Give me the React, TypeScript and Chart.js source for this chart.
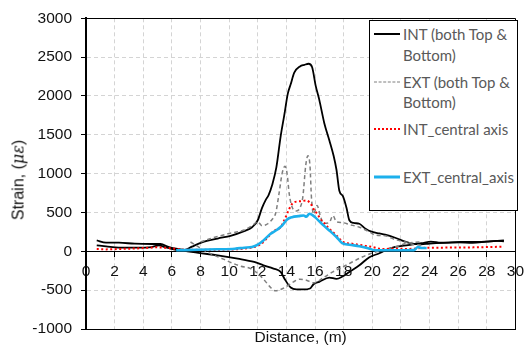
import { useEffect, useRef } from "react";
import { Chart, registerables } from "chart.js";

Chart.register(...registerables);

// ---- axis ranges / labels ----
const X_MIN = 0;
const X_MAX = 30;
const X_STEP = 2;
const Y_MIN = -1000;
const Y_MAX = 3000;
const Y_STEP = 500;
const X_TITLE = "Distance, (m)";
const Y_TITLE_TEXT = "Strain, (";
const Y_TITLE_UNIT = "με";
const Y_TITLE_END = ")";
const SERIES_LABELS = [
  "INT (both Top & Bottom)",
  "EXT (both Top & Bottom)",
  "INT_central axis",
  "EXT_central_axis",
];

// ---- INT top (black, peak) ----
const INT_TOP_X = [0.75, 1.4, 2.3, 3.4, 4.6, 5.2, 5.8, 6.4, 6.9, 7.4, 8.1, 9.2, 10.1, 11.05, 11.6, 12.0, 12.3, 12.55, 12.75, 13.0, 13.3, 13.6, 13.85, 14.1, 14.3, 14.55, 14.95, 15.25, 15.55, 15.8, 16.05, 16.3, 16.65, 17.0, 17.3, 17.5, 17.7, 17.95, 18.2, 18.4, 18.7, 19.1, 19.5, 20.0, 20.5, 20.9, 21.6, 22.3, 22.8, 23.4, 24.0, 25.0, 26.0, 27.0, 28.0, 28.7, 29.2];
const INT_TOP_Y = [141, 111, 111, 98, 94, 94, 55, 30, 17, 60, 115, 165, 200, 260, 310, 400, 560, 660, 720, 850, 1080, 1480, 1750, 2030, 2150, 2300, 2380, 2400, 2415, 2370, 2130, 1950, 1650, 1430, 1230, 1050, 780, 710, 560, 400, 365, 355, 295, 250, 230, 215, 175, 125, 100, 90, 100, 110, 115, 110, 125, 135, 130];

// ---- INT bottom (black, negative) ----
const INT_BOT_X = [0.75, 1.4, 2.3, 3.4, 4.6, 5.1, 5.5, 6.2, 6.9, 7.85, 9.2, 10.6, 11.75, 12.4, 13.1, 13.6, 13.9, 14.3, 14.7, 15.2, 15.65, 15.9, 16.3, 17.0, 17.5, 17.95, 18.4, 19.1, 19.8, 20.5, 20.9, 21.6, 22.5, 23.45, 24.1, 24.8, 26.2, 27.6, 28.5, 29.2];
const INT_BOT_Y = [77, 64, 47, 47, 55, 77, 55, 21, 5, -21, -51, -94, -137, -180, -222, -265, -363, -466, -491, -491, -479, -423, -393, -338, -355, -320, -265, -180, -75, -25, 13, 56, 80, 105, 125, 111, 120, 122, 132, 141];

// ---- EXT top (gray dashed) ----
const EXT_TOP_X = [8.0, 8.8, 9.9, 11.05, 11.6, 12.0, 12.3, 12.7, 13.0, 13.25, 13.5, 13.7, 13.9, 14.05, 14.2, 14.4, 14.7, 14.95, 15.15, 15.35, 15.5, 15.65, 15.75, 15.9, 16.15, 16.35, 16.6, 17.0, 17.25, 17.5, 17.9, 18.4, 19.1, 19.8, 20.2, 20.9, 21.6, 22.3, 22.8, 23.6];
const EXT_TOP_Y = [120, 170, 225, 275, 330, 380, 330, 355, 410, 490, 760, 1000, 1095, 1000, 740, 570, 520, 560, 700, 1100, 1230, 1100, 700, 480, 590, 470, 360, 370, 460, 380, 370, 345, 310, 250, 210, 200, 150, 120, 90, 80];

// ---- EXT bottom (gray dashed) ----
const EXT_BOT_X = [7.3, 7.7, 8.1, 8.5, 9.0, 9.6, 10.2, 10.8, 11.5, 12.1, 12.55, 12.9, 13.25, 13.6, 14.05, 14.5, 14.95, 15.4, 15.9, 16.6, 17.25, 17.95, 18.6, 19.3, 20.0, 20.7, 21.6, 22.5, 23.3];
const EXT_BOT_Y = [120, 75, 30, -10, -55, -100, -150, -190, -222, -300, -390, -466, -509, -491, -449, -393, -359, -372, -406, -338, -265, -201, -137, -73, -21, 13, 56, 107, 120];

// ---- INT central axis (red dotted) ----
const INT_C_X = [0.75, 1.4, 2.3, 3.0, 4.2, 4.9, 6.0, 6.9, 8.3, 9.7, 11.05, 11.75, 12.2, 12.7, 13.1, 13.6, 13.9, 14.15, 14.4, 14.7, 15.05, 15.4, 15.7, 15.95, 16.15, 16.45, 16.7, 17.0, 17.5, 17.95, 18.6, 19.3, 20.0, 20.7, 21.6, 22.5, 23.45, 24.8, 27.1, 29.2];
const INT_C_Y = [30, 25, 30, 34, 43, 51, 38, 21, 21, 22, 34, 56, 90, 180, 260, 310, 420, 526, 610, 640, 645, 654, 611, 530, 483, 397, 350, 290, 205, 120, 98, 77, 56, 30, 34, 30, 43, 47, 51, 60];

// ---- EXT central axis (cyan) ----
const EXT_C_X = [6.3, 7.85, 9.2, 10.4, 11.05, 11.6, 12.0, 12.4, 12.9, 13.35, 13.7, 14.05, 14.4, 14.85, 15.2, 15.4, 15.6, 15.8, 16.0, 16.55, 17.0, 17.5, 17.9, 18.4, 19.1, 19.8, 20.2, 21.0, 22.0, 22.9, 23.2, 23.45, 23.8];
const EXT_C_Y = [13, 21, 26, 34, 47, 56, 85, 141, 226, 278, 330, 410, 440, 453, 462, 445, 483, 470, 440, 340, 269, 184, 105, 85, 66, 34, 13, 13, 13, 15, 56, 43, 43];

const pts = (xs: number[], ys: number[]) => xs.map((x, i) => ({ x, y: ys[i] }));

const TICK_FONT = { family: "'Liberation Sans', Arial, sans-serif", size: 15.5 };

const framePlugin = {
  id: "frame",
  afterDraw(chart: any) {
    const { ctx, chartArea: a } = chart;
    ctx.save();
    ctx.strokeStyle = "#000";
    ctx.lineWidth = 1;
    ctx.beginPath();
    ctx.moveTo(a.left, Math.round(a.top) + 0.5);
    ctx.lineTo(Math.round(a.right) + 0.5, Math.round(a.top) + 0.5);
    ctx.lineTo(Math.round(a.right) + 0.5, a.bottom);
    ctx.stroke();
    ctx.restore();
  },
};

const LEGEND_STYLES = [
  { borderTop: "2px solid #000" },
  { borderTop: "1.5px dashed #7f7f7f" },
  { borderTop: "2px dotted #ff0000" },
  { borderTop: "3px solid #1cb0ec" },
];

export default function App() {
  const ref = useRef<HTMLCanvasElement | null>(null);

  useEffect(() => {
    if (!ref.current) return;
    const common = { pointRadius: 0, fill: false, cubicInterpolationMode: "monotone" as const };
    const chart = new Chart(ref.current, {
      type: "line",
      data: {
        datasets: [
          { ...common, label: SERIES_LABELS[3], data: pts(EXT_C_X, EXT_C_Y), borderColor: "#1cb0ec", borderWidth: 2.6, order: 0 },
          { ...common, label: SERIES_LABELS[2], data: pts(INT_C_X, INT_C_Y), borderColor: "#ff0000", borderWidth: 2, borderDash: [2, 2.5], order: 1 },
          { ...common, label: SERIES_LABELS[1], data: pts(EXT_TOP_X, EXT_TOP_Y), borderColor: "#7f7f7f", borderWidth: 1.5, borderDash: [4, 3], order: 2 },
          { ...common, label: SERIES_LABELS[1] + " b", data: pts(EXT_BOT_X, EXT_BOT_Y), borderColor: "#7f7f7f", borderWidth: 1.5, borderDash: [4, 3], order: 2 },
          { ...common, label: SERIES_LABELS[0], data: pts(INT_TOP_X, INT_TOP_Y), borderColor: "#000", borderWidth: 1.8, order: 3 },
          { ...common, label: SERIES_LABELS[0] + " b", data: pts(INT_BOT_X, INT_BOT_Y), borderColor: "#000", borderWidth: 1.8, order: 3 },
        ],
      },
      options: {
        animation: false,
        responsive: false,
        maintainAspectRatio: false,
        layout: { padding: { top: 17, right: 8, left: 0, bottom: 0 } },
        plugins: { legend: { display: false }, tooltip: { enabled: false } },
        scales: {
          x: {
            type: "linear",
            min: X_MIN,
            max: X_MAX,
            position: { y: 0 } as any,
            ticks: { stepSize: X_STEP, font: TICK_FONT, color: "#111", padding: 6, maxRotation: 0, callback: (v: any) => String(v) },
            grid: { color: "#d4d4d4", lineWidth: 1, tickLength: 5, tickColor: "#000" },
            border: { display: true, color: "#000", width: 1, dash: [4, 3] },
          },
          xb: {
            type: "linear",
            min: X_MIN,
            max: X_MAX,
            position: "bottom",
            ticks: { display: false },
            grid: { display: false },
            border: { display: true, color: "#000", width: 1 },
            title: {
              display: true,
              text: X_TITLE,
              font: { family: "'Liberation Sans', Arial, sans-serif", size: 15.5 },
              color: "#111",
              padding: { top: 0, bottom: 3 },
            },
            afterFit: (s: any) => {
              s.height = 21;
            },
          },
          y: {
            type: "linear",
            min: Y_MIN,
            max: Y_MAX,
            position: "left",
            ticks: { stepSize: Y_STEP, font: TICK_FONT, color: "#111", padding: 9, callback: (v: any) => String(v) },
            grid: { color: "#d4d4d4", lineWidth: 1, tickLength: 5, tickColor: "#000" },
            border: { display: true, color: "#000", width: 2, dash: [4, 3] },
            afterFit: (s: any) => {
              s.width = 86;
            },
          },
        },
      },
      plugins: [framePlugin],
    });
    return () => chart.destroy();
  }, []);

  const entryTop = (i: number) => 3 + i * 47.5;

  return (
    <div style={{ position: "absolute", left: 0, top: 0, width: 530, height: 350, background: "#fff" }}>
      <canvas ref={ref} width={530} height={350} style={{ width: 530, height: 350, display: "block" }} />
      <div
        style={{
          position: "absolute",
          left: 18,
          top: 180,
          transform: "translate(-50%, -50%) rotate(-90deg)",
          whiteSpace: "nowrap",
          font: "16px 'Liberation Sans', Arial, sans-serif",
          color: "#111",
        }}
      >
        {Y_TITLE_TEXT}
        <span style={{ fontFamily: "'DejaVu Serif', serif", fontStyle: "italic" }}>{Y_TITLE_UNIT}</span>
        {Y_TITLE_END}
      </div>
      <div
        style={{
          position: "absolute",
          left: 369,
          top: 20,
          width: 147,
          height: 189,
          border: "1px solid #000",
          background: "#fff",
        }}
      >
        {SERIES_LABELS.map((label, i) => (
          <div key={label} style={{ position: "absolute", left: 0, top: entryTop(i), width: 147 }}>
            <div
              style={{
                position: "absolute",
                left: 4,
                top: 10,
                width: 26,
                height: 0,
                ...LEGEND_STYLES[i],
                transform: "translateY(-50%)",
              }}
            />
            <div
              style={{
                position: "absolute",
                left: 33,
                top: 0,
                width: 112,
                font: "15px Lato, 'Open Sans', sans-serif",
                lineHeight: "20.7px",
                color: "#595959",
              }}
            >
              {label}
            </div>
          </div>
        ))}
      </div>
    </div>
  );
}
